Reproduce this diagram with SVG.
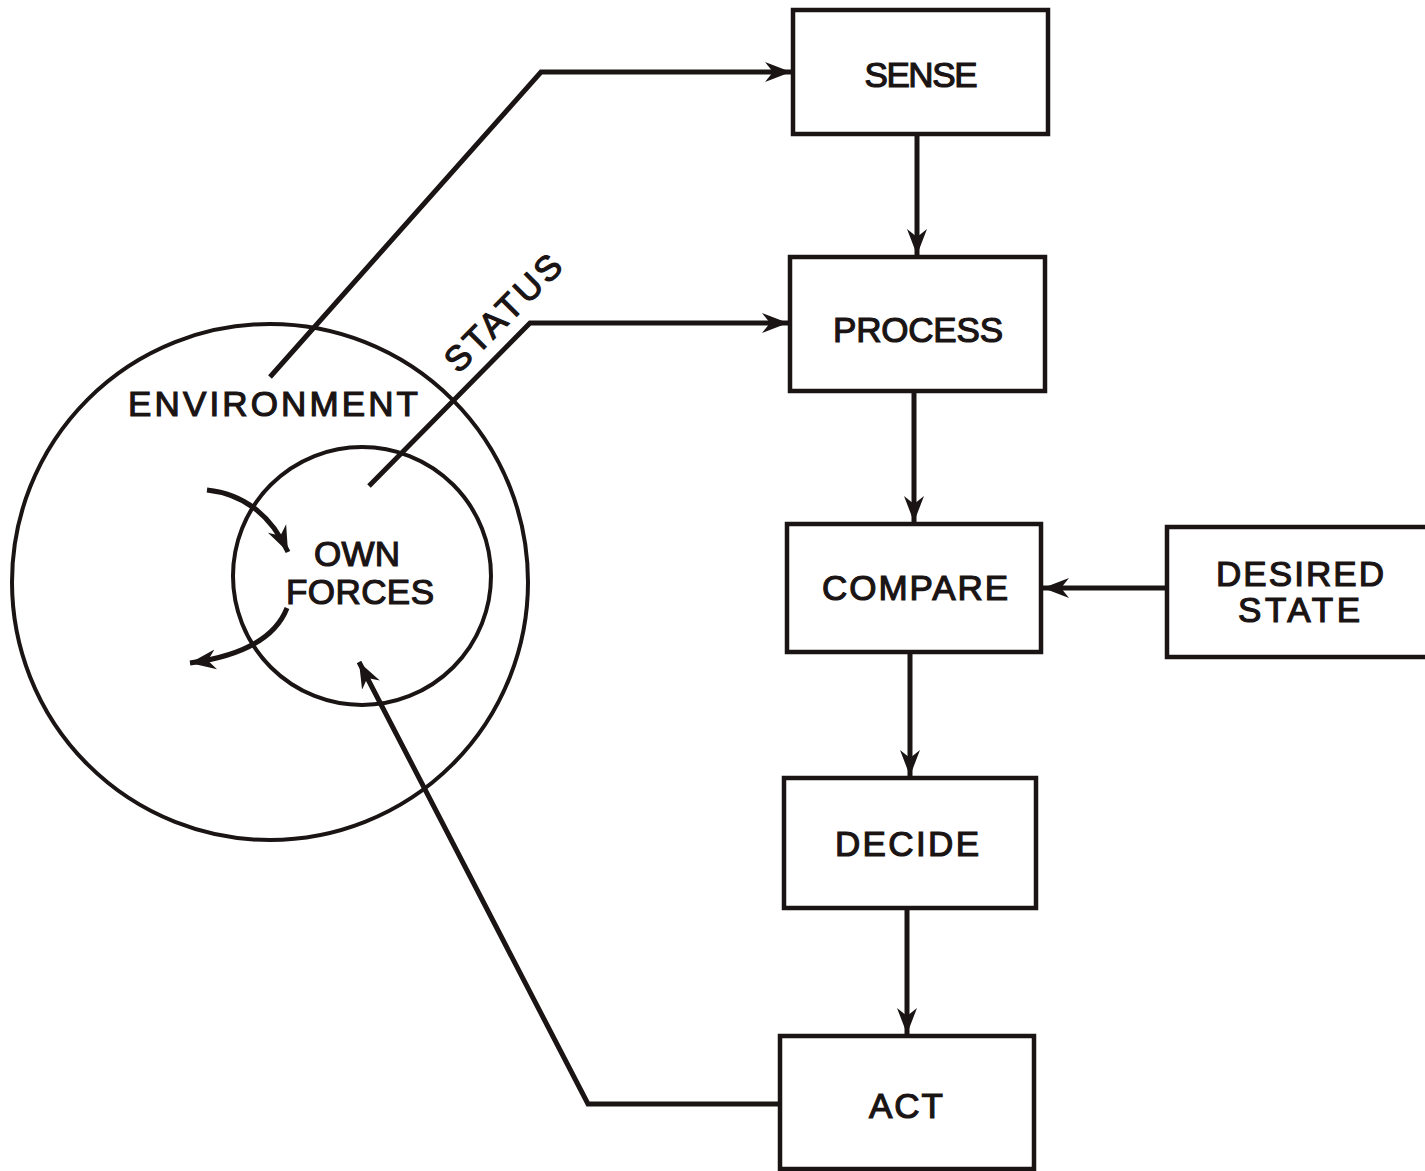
<svg xmlns="http://www.w3.org/2000/svg" width="1425" height="1171" viewBox="0 0 1425 1171">
<style>
.box{fill:none;stroke:#1a1414;stroke-width:4.5}
.ring{fill:none;stroke:#1a1414;stroke-width:4}
.ln{fill:none;stroke:#1a1414;stroke-width:5}
.arc{fill:none;stroke:#1a1414;stroke-width:5}
text{font-family:"Liberation Sans",Arial,sans-serif;font-size:35px;fill:#1a1414;stroke:#1a1414;stroke-width:1.2;text-anchor:middle}
</style>
<defs>
<marker id="arr" markerWidth="28" markerHeight="22" refX="26" refY="11" orient="auto" markerUnits="userSpaceOnUse">
<path d="M0,1 L26,11 L0,21 L8,11 z" fill="#1a1414"/>
</marker>
</defs>
<rect width="1425" height="1171" fill="#ffffff"/>
<g id="environment">
<circle class="ring" cx="270" cy="582" r="258"/>
<text x="273" y="416" textLength="290" lengthAdjust="spacing">ENVIRONMENT</text>
</g>
<g id="own-forces">
<circle class="ring" cx="362" cy="576" r="129"/>
<text x="357" y="566" textLength="86" lengthAdjust="spacing">OWN</text>
<text x="360" y="604" textLength="148" lengthAdjust="spacing">FORCES</text>
</g>
<g id="sense">
<rect class="box" x="793" y="10" width="255" height="124"/>
<text x="921" y="87" textLength="113" lengthAdjust="spacing">SENSE</text>
</g>
<g id="process">
<rect class="box" x="790" y="257" width="255" height="134"/>
<text x="918" y="342" textLength="170" lengthAdjust="spacing">PROCESS</text>
</g>
<g id="compare">
<rect class="box" x="787" y="524" width="254" height="128"/>
<text x="915" y="600" textLength="186" lengthAdjust="spacing">COMPARE</text>
</g>
<g id="desired-state">
<rect class="box" x="1167" y="527" width="262" height="130"/>
<text x="1300" y="586" textLength="168" lengthAdjust="spacing">DESIRED</text>
<text x="1299" y="622" textLength="122" lengthAdjust="spacing">STATE</text>
</g>
<g id="decide">
<rect class="box" x="784" y="778" width="252" height="130"/>
<text x="907" y="856" textLength="144" lengthAdjust="spacing">DECIDE</text>
</g>
<g id="act">
<rect class="box" x="780" y="1036" width="254" height="133"/>
<text x="906" y="1118" textLength="74" lengthAdjust="spacing">ACT</text>
</g>
<g id="connectors">
<polyline class="ln" points="270,377 541,72 791,72" marker-end="url(#arr)"/>
<polyline class="ln" points="369,486 530,323 788,323" marker-end="url(#arr)"/>
<line class="ln" x1="917" y1="134" x2="917" y2="255" marker-end="url(#arr)"/>
<line class="ln" x1="914" y1="391" x2="914" y2="522" marker-end="url(#arr)"/>
<line class="ln" x1="910" y1="652" x2="910" y2="776" marker-end="url(#arr)"/>
<line class="ln" x1="907" y1="908" x2="907" y2="1034" marker-end="url(#arr)"/>
<line class="ln" x1="1167" y1="588" x2="1043" y2="588" marker-end="url(#arr)"/>
<polyline class="ln" points="780,1104 588,1104 359,662" marker-end="url(#arr)"/>
<path class="arc" d="M207,490 Q262,496 288,552" marker-end="url(#arr)"/>
<path class="arc" d="M287,608 Q270,652 190,663" marker-end="url(#arr)"/>
<text x="503" y="313" transform="rotate(-45 503 313)" dy="12" textLength="150" lengthAdjust="spacing">STATUS</text>
</g>
</svg>
